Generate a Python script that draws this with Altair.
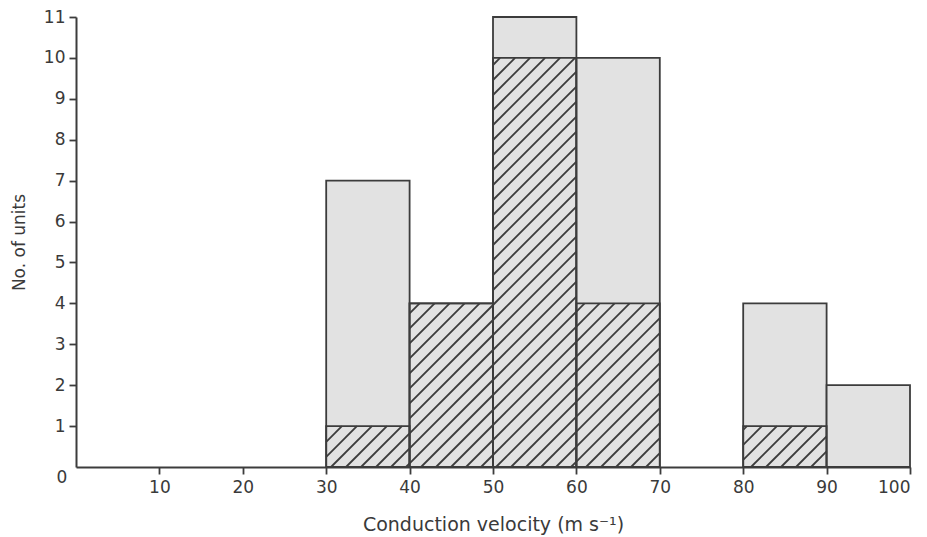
import altair as alt
import pandas as pd

bin_start = [30, 40, 50, 60, 80, 90]
bin_end = [40, 50, 60, 70, 90, 100]
total_units = [7, 4, 11, 10, 4, 2]
hatched_units = [1, 4, 10, 4, 1, 0]

W, H = 834, 450
X_MAX, Y_MAX = 100, 11
TXT = "#3a3a3a"
LINE = "#3c3c3c"
FONT = "DejaVu Sans"

bars = pd.DataFrame({"x0": bin_start, "x1": bin_end, "total": total_units, "hatched": hatched_units})

# hatch lines (45 degrees in pixel space) clipped to hatched rectangles
kx = W / X_MAX
ky = H / Y_MAX
s = kx / ky
spacing = 15 / kx
segs = []
for x0, x1, h in zip(bin_start, bin_end, hatched_units):
    if h <= 0:
        continue
    k = -40
    while k * spacing < x1 + 1:
        c = k * spacing
        a = max(x0, c)
        b = min(x1, c + h / s)
        if b > a:
            segs.append({"xa": a, "ya": s * (a - c), "xb": b, "yb": s * (b - c)})
        k += 1
hatch = pd.DataFrame(segs)

xs = alt.Scale(domain=[0, X_MAX], nice=False)
ys = alt.Scale(domain=[0, Y_MAX], nice=False)

base = alt.Chart(bars)

total = base.mark_rect(fill="#e2e2e2", stroke=LINE, strokeWidth=1.8).encode(
    x=alt.X("x0:Q", scale=xs, title="Conduction velocity (m s⁻¹)",
            axis=alt.Axis(values=list(range(10, 101, 10)), grid=False, tickSize=7,
                          domainColor=LINE, domainWidth=2, tickColor=LINE, tickWidth=1.8,
                          labelFontSize=17, labelColor=TXT, labelPadding=5,
                          titleFontSize=19, titleColor=TXT, titleFontWeight="normal",
                          titlePadding=20)),
    x2="x1:Q",
    y=alt.Y("total:Q", scale=ys, title="No. of units",
            axis=alt.Axis(values=list(range(1, 12)), grid=False, tickSize=7,
                          domainColor=LINE, domainWidth=2, tickColor=LINE, tickWidth=1.8,
                          labelFontSize=17, labelColor=TXT, labelPadding=4,
                          titleFontSize=17, titleColor=TXT, titleFontWeight="normal",
                          titlePadding=15)),
    y2=alt.datum(0),
)

hatched_rect = base.transform_filter("datum.hatched > 0").mark_rect(
    fill=None, stroke=LINE, strokeWidth=1.8).encode(
    x=alt.X("x0:Q", scale=xs), x2="x1:Q",
    y=alt.Y("hatched:Q", scale=ys), y2=alt.datum(0),
)

lines = alt.Chart(hatch).mark_rule(color=LINE, strokeWidth=1.8).encode(
    x=alt.X("xa:Q", scale=xs), x2="xb:Q",
    y=alt.Y("ya:Q", scale=ys), y2="yb:Q",
)

zero = alt.Chart(pd.DataFrame({"v": [0]})).mark_text(
    text="0", fontSize=17, color=TXT, dx=-14, dy=11, font=FONT).encode(
    x=alt.X("v:Q", scale=xs), y=alt.Y("v:Q", scale=ys))

chart = alt.layer(total, lines, hatched_rect, zero).properties(
    width=W, height=H, background="white",
    autosize=alt.AutoSizeParams(type="none"),
    padding={"left": 68, "top": 9, "right": 9, "bottom": 70},
).configure_view(stroke=None).configure_axis(
    labelFont=FONT, titleFont=FONT
)

chart.save("out.html", embed_options={"renderer": "svg", "actions": False})
